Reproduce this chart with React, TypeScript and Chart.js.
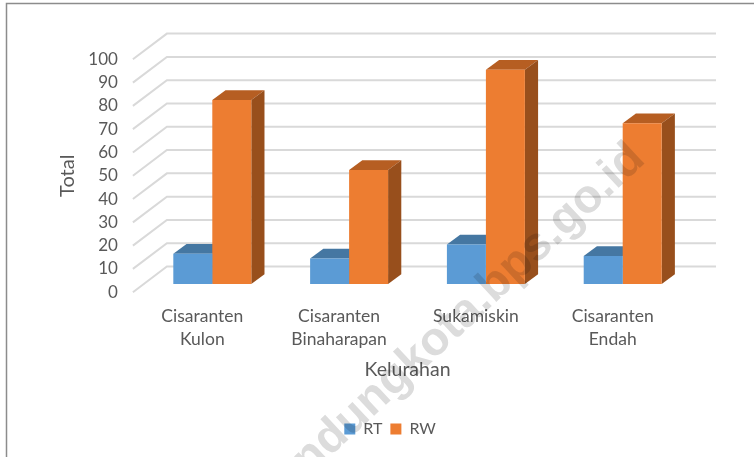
import React, { useEffect, useRef } from "react";
import { Chart, registerables } from "chart.js";

Chart.register(...registerables);

const categories = [["Cisaranten", "Kulon"], ["Cisaranten", "Binaharapan"], "Sukamiskin", ["Cisaranten", "Endah"]];
const rtValues = [13, 11, 17, 12];
const rwValues = [79, 49, 92, 69];
const watermark = "bandungkota.bps.go.id";

const FONT = "Lato, Carlito, sans-serif";
const TEXT = "#595959";
// bars stand this far behind the front plane that carries the axes
const BAR_SHIFT = { x: 10, y: -8.2 };
const BAR_DEPTH = { x: 13.2, y: -9.7 };
const WALL_DEPTH = { x: 34, y: -25.7 };
const WALL_RIGHT = 716;
const LEGEND_SHIFT = 49.5;
const FACES = [
  { top: "#4577a2", side: "#3d6f9c" },
  { top: "#b65e22", side: "#984f1c" },
];

const poly = (ctx: CanvasRenderingContext2D, pts: number[][], fill: string) => {
  ctx.beginPath();
  pts.forEach((p, i) => (i ? ctx.lineTo(p[0], p[1]) : ctx.moveTo(p[0], p[1])));
  ctx.closePath();
  ctx.fillStyle = fill;
  ctx.fill();
};

const scene3d = {
  id: "scene3d",
  afterLayout(chart: any) {
    chart.legend.left += LEGEND_SHIFT;
    chart.legend.right += LEGEND_SHIFT;
  },
  beforeDraw(chart: any) {
    const { ctx, scales, chartArea } = chart;
    ctx.save();
    // picture frame
    ctx.strokeStyle = "#8c8c8c";
    ctx.lineWidth = 1.5;
    ctx.beginPath();
    ctx.moveTo(6.5, 457);
    ctx.lineTo(6.5, 3.5);
    ctx.lineTo(754, 3.5);
    ctx.stroke();
    // floor/wall gridlines
    ctx.strokeStyle = "#d9d9d9";
    ctx.lineWidth = 2;
    scales.y.ticks.forEach((t: any) => {
      const y = scales.y.getPixelForValue(t.value);
      ctx.beginPath();
      ctx.moveTo(chartArea.left - 1, y);
      ctx.lineTo(chartArea.left - 1 + WALL_DEPTH.x, y + WALL_DEPTH.y);
      ctx.lineTo(WALL_RIGHT, y + WALL_DEPTH.y);
      ctx.stroke();
    });
    ctx.restore();
  },
  beforeDatasetsDraw(chart: any) {
    const { ctx } = chart;
    ctx.save();
    ctx.translate(BAR_SHIFT.x, BAR_SHIFT.y);
    chart.data.datasets.forEach((_: any, di: number) => {
      chart.getDatasetMeta(di).data.forEach((bar: any) => {
        const l = bar.x - bar.width / 2;
        const r = bar.x + bar.width / 2;
        const d = BAR_DEPTH;
        poly(ctx, [[l, bar.y], [r, bar.y], [r + d.x, bar.y + d.y], [l + d.x, bar.y + d.y]], FACES[di].top);
        poly(ctx, [[r, bar.y], [r + d.x, bar.y + d.y], [r + d.x, bar.base + d.y], [r, bar.base]], FACES[di].side);
      });
    });
  },
  afterDatasetsDraw(chart: any) {
    chart.ctx.restore();
  },
  afterDraw(chart: any) {
    const { ctx } = chart;
    ctx.save();
    ctx.globalCompositeOperation = "multiply";
    ctx.translate(638, 152);
    ctx.rotate((-43 * Math.PI) / 180);
    ctx.font = "bold 47px 'Liberation Sans', sans-serif";
    ctx.fillStyle = "#dcdcdc";
    ctx.textAlign = "right";
    ctx.textBaseline = "middle";
    ctx.fillText(watermark, 0, 0);
    ctx.restore();
  },
};

export default function App() {
  const ref = useRef<HTMLCanvasElement>(null);
  useEffect(() => {
    const chart = new Chart(ref.current as HTMLCanvasElement, {
      type: "bar",
      data: {
        labels: categories as any,
        datasets: [
          { label: "RT", data: rtValues, backgroundColor: "#5b9bd5", categoryPercentage: 0.57, barPercentage: 1, clip: false as any },
          { label: "RW", data: rwValues, backgroundColor: "#ed7d31", categoryPercentage: 0.57, barPercentage: 1, clip: false as any },
        ],
      },
      plugins: [scene3d],
      options: {
        responsive: false,
        animation: false,
        layout: { padding: { left: 0, right: 72.9, top: 59.3, bottom: 10 } },
        plugins: {
          tooltip: { enabled: false },
          legend: {
            position: "bottom",
            labels: {
              boxWidth: 11,
              boxHeight: 11,
              padding: 8,
              color: TEXT,
              font: { family: FONT, size: 16 },
            },
          },
        },
        scales: {
          x: {
            grid: { display: false },
            border: { display: false },
            ticks: {
              color: TEXT,
              font: { family: FONT, size: 17.5, lineHeight: 1.31 },
              padding: 4.3,
              autoSkip: false,
              maxRotation: 0,
            },
            title: {
              display: true,
              text: "Kelurahan",
              color: TEXT,
              font: { family: FONT, size: 19.5 },
              padding: { top: 0, bottom: 32 },
            },
            afterFit: (s: any) => {
              s.height = 120.8;
            },
          },
          y: {
            min: 0,
            max: 100,
            grid: { display: false },
            border: { display: false },
            ticks: {
              stepSize: 10,
              autoSkip: false,
              color: TEXT,
              font: { family: FONT, size: 17 },
              padding: 8,
            },
            title: {
              display: true,
              text: "Total",
              color: TEXT,
              font: { family: FONT, size: 20, lineHeight: 1.2 },
              padding: { top: 56, bottom: 0 },
            },
            afterFit: (s: any) => {
              s.width = 133.9;
            },
          },
        },
      },
    } as any);
    return () => chart.destroy();
  }, []);
  return (
    <div style={{ position: "absolute", left: 0, top: 0, width: 754, height: 457, background: "#fff" }}>
      <canvas ref={ref} width={754} height={457} style={{ display: "block" }} />
    </div>
  );
}
